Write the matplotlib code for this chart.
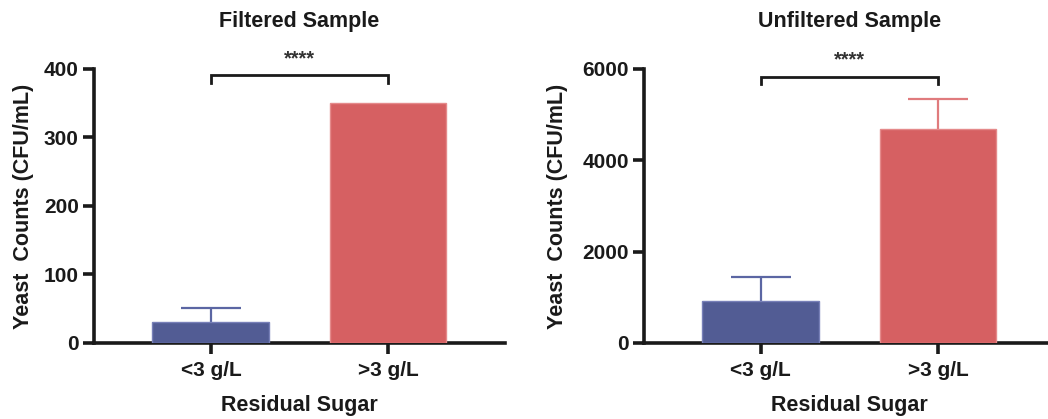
import matplotlib
matplotlib.use("Agg")
import matplotlib.pyplot as plt
import numpy as np

plt.rcParams['font.family'] = ['Liberation Sans', 'DejaVu Sans']
plt.rcParams['font.weight'] = 'bold'

categories = ['<3 g/L', '>3 g/L']

filtered_mean = [30, 350]
filtered_err = [21, 0]

unfiltered_mean = [930, 4690]
unfiltered_err = [510, 650]

panel_titles = ['Filtered Sample', 'Unfiltered Sample']
significance = '****'
y_ticks_filtered = [0, 100, 200, 300, 400]
y_ticks_unfiltered = [0, 2000, 4000, 6000]

bar_colors = ['#525C94', '#D66062']
edge_colors = ['#7880B8', '#E58A8B']
err_colors = ['#5B66A3', '#E07B7D']

BAR_WIDTH = 0.66
CAP_HALF = 0.17

fig = plt.figure(figsize=(10.48, 4.19), dpi=100)
ax1 = fig.add_axes([0.0897, 0.1814, 0.392, 0.654])
ax2 = fig.add_axes([0.6145, 0.1814, 0.392, 0.654])


def draw_panel(ax, means, errs, title, yticks, bracket_y, bracket_drop, star_y,
               ylabel_x):
    x = np.arange(len(categories))
    ax.bar(x, means, width=BAR_WIDTH, color=bar_colors, edgecolor=edge_colors,
           linewidth=1.0, zorder=3)
    # upper-only error bars with a single cap
    for xi, m, e, c in zip(x, means, errs, err_colors):
        if e > 0:
            ax.plot([xi, xi], [m, m + e], color=c, linewidth=1.6, zorder=2,
                    solid_capstyle='butt')
            ax.plot([xi - CAP_HALF, xi + CAP_HALF], [m + e, m + e], color=c,
                    linewidth=1.6, zorder=2, solid_capstyle='butt')
    ax.set_xlim(-0.66, 1.66)
    ax.set_ylim(0, yticks[-1])
    ax.set_yticks(yticks)
    ax.set_xticks(x)
    ax.set_xticklabels(categories)

    for s in ['top', 'right']:
        ax.spines[s].set_visible(False)
    for s in ['left', 'bottom']:
        ax.spines[s].set_linewidth(2.6)
        ax.spines[s].set_color('#1a1a1a')
    ax.tick_params(axis='both', width=2.6, length=8, color='#1a1a1a',
                   labelsize=15, labelcolor='#1a1a1a')
    ax.tick_params(axis='y', pad=3)
    ax.tick_params(axis='x', pad=5)
    for lab in ax.get_xticklabels() + ax.get_yticklabels():
        lab.set_fontweight('bold')

    ax.set_ylabel('Yeast  Counts (CFU/mL)', fontsize=15.5, fontweight='bold',
                  color='#1a1a1a')
    ax.yaxis.set_label_coords(ylabel_x, 0.5)
    ax.set_xlabel('Residual Sugar', fontsize=15.5, fontweight='bold',
                  color='#1a1a1a')
    ax.xaxis.set_label_coords(0.5, -0.19)

    ax.text(0.5, 1.172, title, transform=ax.transAxes, ha='center',
            va='center', fontsize=15.5, fontweight='bold', color='#1a1a1a')

    ax.plot([0, 0, 1, 1],
            [bracket_y - bracket_drop, bracket_y, bracket_y,
             bracket_y - bracket_drop],
            color='#1a1a1a', linewidth=2.0, clip_on=False,
            solid_joinstyle='miter', zorder=4)
    ax.text(0.5, star_y, significance, ha='center', va='center',
            fontsize=14.5, fontweight='bold', color='#333333', clip_on=False)


draw_panel(ax1, filtered_mean, filtered_err, panel_titles[0],
           y_ticks_filtered, 391, 11, 414, -0.146)
draw_panel(ax2, unfiltered_mean, unfiltered_err, panel_titles[1],
           y_ticks_unfiltered, 5818, 140, 6200, -0.185)

fig.savefig('out.png', dpi=100, facecolor='white')
